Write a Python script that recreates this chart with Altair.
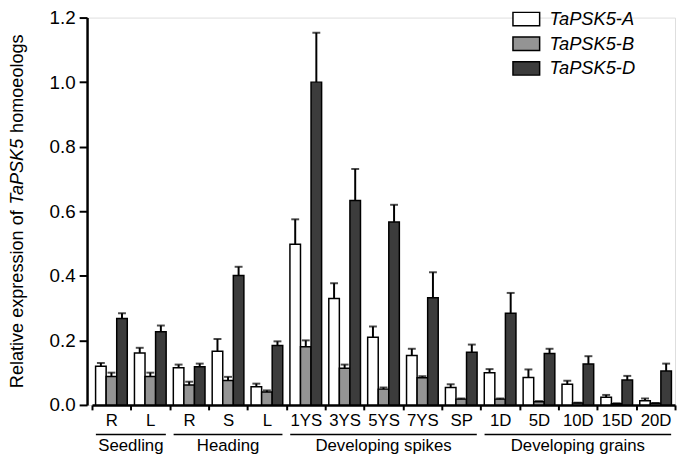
import altair as alt
import pandas as pd

# ---- data ----
groups = ["Seedling", "Heading", "Developing spikes", "Developing grains"]
group_sizes = [2, 3, 5, 5]
labels = ["R", "L", "R", "S", "L", "1YS", "3YS", "5YS", "7YS", "SP", "1D", "5D", "10D", "15D", "20D"]
series = ["TaPSK5-A", "TaPSK5-B", "TaPSK5-D"]

val_A = [0.120, 0.161, 0.115, 0.166, 0.056, 0.498, 0.330, 0.210, 0.153, 0.054, 0.100, 0.085, 0.064, 0.024, 0.013]
err_A = [0.010, 0.016, 0.010, 0.038, 0.010, 0.077, 0.047, 0.033, 0.021, 0.010, 0.011, 0.025, 0.011, 0.007, 0.007]
val_B = [0.088, 0.088, 0.062, 0.076, 0.040, 0.180, 0.114, 0.049, 0.084, 0.018, 0.018, 0.010, 0.006, 0.004, 0.005]
err_B = [0.012, 0.012, 0.010, 0.011, 0.005, 0.020, 0.011, 0.005, 0.005, 0.002, 0.002, 0.002, 0.001, 0.001, 0.001]
val_D = [0.268, 0.227, 0.118, 0.401, 0.184, 1.000, 0.633, 0.567, 0.332, 0.163, 0.284, 0.159, 0.127, 0.077, 0.105]
err_D = [0.016, 0.019, 0.010, 0.027, 0.013, 0.153, 0.098, 0.053, 0.079, 0.024, 0.063, 0.015, 0.024, 0.013, 0.023]

colors = ["#ffffff", "#949494", "#3c3c3c"]
FONT = "Liberation Sans"

# ---- build tables ----
group_of = []
for g, n in zip(groups, group_sizes):
    group_of += [g] * n
cat_ids = [f"{g}:{l}" for g, l in zip(group_of, labels)]

rows = []
for s, vals, errs in zip(series, [val_A, val_B, val_D], [err_A, err_B, err_D]):
    for c, v, e in zip(cat_ids, vals, errs):
        rows.append({"cat": c, "series": s, "value": v, "top": v + e})
df = pd.DataFrame(rows)

grows = []
start = 0
for g, n in zip(groups, group_sizes):
    grows.append({"group": g, "s": start + 0.1, "e": start + n - 0.1, "m": start + n / 2})
    start += n
gdf = pd.DataFrame(grows)

W, H = 595, 392
XR = [5, W]

x_enc = alt.X("cat:N", sort=cat_ids, title=None,
              scale=alt.Scale(range=XR, paddingInner=0, paddingOuter=0),
              axis=alt.Axis(labelExpr="split(datum.label, ':')[1]", labelAngle=0,
                            tickBand="extent", tickSize=5, tickWidth=2, tickColor="black",
                            domainWidth=2.5, domainColor="black", labelFontSize=17,
                            labelFont=FONT, labelColor="black", labelPadding=3))
xo_enc = alt.XOffset("series:N", sort=series,
                     scale=alt.Scale(paddingInner=0, paddingOuter=0.34))
y_scale = alt.Scale(domain=[0, 1.2], nice=False)

bars = alt.Chart(df).mark_bar(stroke="black", strokeWidth=1.5).encode(
    x=x_enc,
    xOffset=xo_enc,
    y=alt.Y("value:Q", scale=y_scale, title=None,
            axis=alt.Axis(values=[0, 0.2, 0.4, 0.6, 0.8, 1.0, 1.2], format=".1f",
                          grid=False, tickSize=8, tickWidth=2, tickColor="black",
                          domainWidth=2.5, domainColor="black", labelFontSize=19,
                          labelFont=FONT, labelColor="black", labelPadding=4)),
    fill=alt.Fill("series:N", sort=series,
                  scale=alt.Scale(domain=series, range=colors),
                  legend=alt.Legend(title=None, orient="none", legendX=430, legendY=-13,
                                    symbolType="M-1,-0.5H1V0.5H-1Z", symbolSize=729,
                                    symbolStrokeColor="black", symbolStrokeWidth=1.5,
                                    labelFontSize=18.5, labelFontStyle="italic",
                                    labelFont=FONT, labelColor="black",
                                    labelOffset=9, rowPadding=-3, padding=0)),
)

err_rule = alt.Chart(df).mark_rule(color="black", strokeWidth=2).encode(
    x=alt.X("cat:N", sort=cat_ids),
    xOffset=alt.XOffset("series:N", sort=series),
    y=alt.Y("value:Q", scale=y_scale),
    y2="top:Q",
)
err_cap = alt.Chart(df).mark_tick(color="black", thickness=2, size=8).encode(
    x=alt.X("cat:N", sort=cat_ids),
    xOffset=alt.XOffset("series:N", sort=series),
    y=alt.Y("top:Q", scale=y_scale),
)
main = alt.layer(bars, err_rule, err_cap)

gx = alt.Scale(domain=[0, len(labels)], range=XR)
g_line = alt.Chart(gdf).mark_rule(color="black", strokeWidth=1.5).encode(
    x=alt.X("s:Q", scale=gx, axis=None),
    x2="e:Q",
    y=alt.value(422),
)
g_text = alt.Chart(gdf).mark_text(fontSize=17, font=FONT, color="black",
                                  baseline="alphabetic", align="center").encode(
    x=alt.X("m:Q", scale=gx, axis=None),
    y=alt.value(439),
    text="group:N",
)
glayer = alt.layer(g_line, g_text)

one = pd.DataFrame({"k": [0]})
TS = 18.3
TX = -70
t1 = alt.Chart(one).mark_text(text="Relative expression of", angle=270, align="right",
                              baseline="middle", fontSize=TS, font=FONT, color="black").encode(
    x=alt.value(TX), y=alt.value(195))
t2 = alt.Chart(one).mark_text(text="TaPSK5", angle=270, align="center", fontStyle="italic",
                              baseline="middle", fontSize=TS, font=FONT, color="black").encode(
    x=alt.value(TX), y=alt.value(155.9))
t3 = alt.Chart(one).mark_text(text="homoeologs", angle=270, align="left",
                              baseline="middle", fontSize=TS, font=FONT, color="black").encode(
    x=alt.value(TX), y=alt.value(116.7))

chart = alt.layer(main, glayer, t1, t2, t3).resolve_scale(
    x="independent"
).properties(
    width=W, height=H,
    autosize=alt.AutoSizeParams(type="none"),
    padding={"left": 80, "top": 7, "right": 2, "bottom": 50},
).configure_view(stroke=None).configure(font=FONT)

chart.save("out.html", embed_options={"renderer": "svg", "actions": False})
